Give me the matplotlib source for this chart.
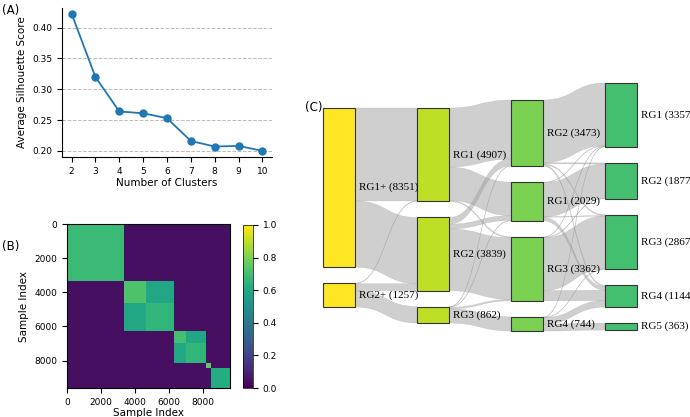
import numpy as np
import matplotlib
matplotlib.use("Agg")
import matplotlib.pyplot as plt
from matplotlib.path import Path
from matplotlib.patches import PathPatch, Rectangle

# ---------------- data ----------------
n_clusters = [2, 3, 4, 5, 6, 7, 8, 9, 10]
silhouette = [0.423, 0.320, 0.264, 0.261, 0.253, 0.216, 0.207, 0.208, 0.200]

seg_bounds = [0, 3350, 4600, 6250, 7000, 8150, 8450, 9608]
seg_cluster = [0, 1, 1, 2, 2, 3, 4]
same_seg_val = [0.68, 0.72, 0.66, 0.70, 0.66, 0.75, 0.62]
same_cluster_val = 0.60
diff_cluster_val = 0.04

col_names = [["RG1+", "RG2+"], ["RG1", "RG2", "RG3"],
             ["RG2", "RG1", "RG3", "RG4"], ["RG1", "RG2", "RG3", "RG4", "RG5"]]
col_values = [[8351, 1257], [4907, 3839, 862], [3473, 2029, 3362, 744],
              [3357, 1877, 2867, 1144, 363]]
col_colors = ["#fde725", "#bddf26", "#7ad151", "#44bf70"]
# flows: (column, source index, target index, value)
flows = [
    (0, 0, 0, 4877), (0, 0, 1, 3474), (0, 1, 0, 30), (0, 1, 1, 365), (0, 1, 2, 862),
    (1, 0, 0, 3100), (1, 0, 1, 1757), (1, 0, 2, 50),
    (1, 1, 0, 353), (1, 1, 1, 252), (1, 1, 2, 3234),
    (1, 2, 0, 20), (1, 2, 1, 20), (1, 2, 2, 78), (1, 2, 3, 744),
    (2, 0, 0, 3290), (2, 0, 1, 60), (2, 0, 2, 50), (2, 0, 3, 73),
    (2, 1, 0, 20), (2, 1, 1, 1790), (2, 1, 2, 30), (2, 1, 3, 189),
    (2, 2, 0, 27), (2, 2, 1, 27), (2, 2, 2, 2767), (2, 2, 3, 541),
    (2, 3, 0, 20), (2, 3, 2, 20), (2, 3, 3, 341), (2, 3, 4, 363),
]

fig = plt.figure(figsize=(6.9, 4.17), dpi=100)
W, H = 690, 417

# ---------------- panel A ----------------
axA = fig.add_axes([62 / W, 1 - 157 / H, 210 / W, 149 / H])
axA.plot(n_clusters, silhouette, "-o", color="#1f77b4", ms=5, lw=1.3)
axA.set_xticks(n_clusters)
axA.set_yticks([0.20, 0.25, 0.30, 0.35, 0.40])
axA.set_ylim(0.19, 0.432)
axA.set_xlim(1.6, 10.4)
axA.grid(axis="y", ls="--", color="#bbbbbb", lw=0.7)
axA.set_axisbelow(True)
for s in ["top", "right"]:
    axA.spines[s].set_visible(False)
axA.tick_params(labelsize=6.5)
axA.set_xlabel("Number of Clusters", fontsize=7.5, labelpad=2)
axA.set_ylabel("Average Silhouette Score", fontsize=7.5)
fig.text(2 / W, 1 - 14 / H, "(A)", fontsize=8.5)

# ---------------- panel B ----------------
step = 8
idx = np.arange(0, seg_bounds[-1], step)
seg_of = np.searchsorted(seg_bounds, idx, side="right") - 1
clu = np.array(seg_cluster)[seg_of]
M = np.full((len(idx), len(idx)), diff_cluster_val)
same_c = clu[:, None] == clu[None, :]
M[same_c] = same_cluster_val
same_s = seg_of[:, None] == seg_of[None, :]
sv = np.array(same_seg_val)[seg_of]
M[same_s] = np.broadcast_to(sv[:, None], M.shape)[same_s]
axB = fig.add_axes([67 / W, 1 - 388 / H, 163 / W, 164 / H])
im = axB.imshow(M, cmap="viridis", vmin=0, vmax=1, aspect="auto",
                extent=[0, seg_bounds[-1], seg_bounds[-1], 0], interpolation="nearest")
axB.set_xticks([0, 2000, 4000, 6000, 8000])
axB.set_yticks([0, 2000, 4000, 6000, 8000])
axB.tick_params(labelsize=6.5)
axB.set_xlabel("Sample Index", fontsize=7.5, labelpad=1)
axB.set_ylabel("Sample Index", fontsize=7.5)
cax = fig.add_axes([243 / W, 1 - 388 / H, 10 / W, 163 / H])
cb = fig.colorbar(im, cax=cax)
cb.ax.tick_params(labelsize=6.5)
cb.outline.set_linewidth(0.5)
fig.text(2 / W, 1 - 250 / H, "(B)", fontsize=8.5)

# ---------------- panel C (sankey) ----------------
axC = fig.add_axes([0, 0, 1, 1], zorder=-1)
axC.set_xlim(0, W)
axC.set_ylim(H, 0)
axC.axis("off")
col_x = [323, 417, 511, 605]
col_top = [108, 108, 100, 83]
node_w = 32
gap = 16
scale = 0.01905

node_y = []
for c, vals in enumerate(col_values):
    y = col_top[c]
    ys = []
    for v in vals:
        ys.append(y)
        y += v * scale + gap
    node_y.append(ys)

for c in range(3):
    cf = [f for f in flows if f[0] == c]
    geo = {}
    oo = [0.0] * len(col_values[c])
    for (_, s, t, v) in sorted(cf, key=lambda f: (f[1], f[2])):
        geo[(s, t)] = [node_y[c][s] + oo[s]]
        oo[s] += v * scale
    io = [0.0] * len(col_values[c + 1])
    for (_, s, t, v) in sorted(cf, key=lambda f: (f[2], f[1])):
        geo[(s, t)].append(node_y[c + 1][t] + io[t])
        io[t] += v * scale
    x0 = col_x[c] + node_w
    x1 = col_x[c + 1]
    xm = (x0 + x1) / 2
    for (_, s, t, v) in cf:
        ya, yb = geo[(s, t)]
        h = v * scale
        verts = [(x0, ya), (xm, ya), (xm, yb), (x1, yb),
                 (x1, yb + h), (xm, yb + h), (xm, ya + h), (x0, ya + h), (x0, ya)]
        codes = [Path.MOVETO, Path.CURVE4, Path.CURVE4, Path.CURVE4,
                 Path.LINETO, Path.CURVE4, Path.CURVE4, Path.CURVE4, Path.CLOSEPOLY]
        axC.add_patch(PathPatch(Path(verts, codes), facecolor="#a0a0a0", alpha=0.5,
                                edgecolor="#a0a0a0", lw=0.3))

for c, vals in enumerate(col_values):
    for i, v in enumerate(vals):
        y = node_y[c][i]
        h = v * scale
        axC.add_patch(Rectangle((col_x[c], y), node_w, h, facecolor=col_colors[c],
                                edgecolor="#333333", lw=0.8, zorder=3))
        axC.text(col_x[c] + node_w + 4, y + h / 2, f"{col_names[c][i]} ({v})",
                 fontsize=8, family="Liberation Serif", va="center", ha="left", zorder=4)
fig.text(305 / W, 1 - 111 / H, "(C)", fontsize=8.5)

fig.savefig("out.png", dpi=100)
